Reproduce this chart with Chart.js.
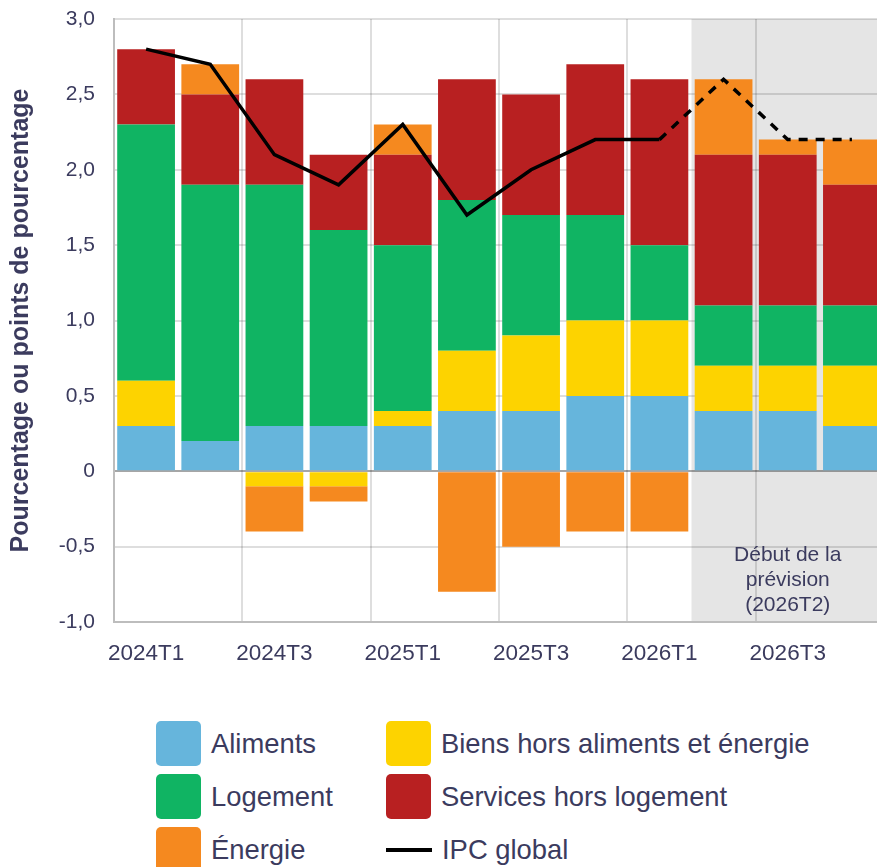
<!DOCTYPE html>
<html>
<head>
<meta charset="utf-8">
<script src="https://cdn.jsdelivr.net/npm/chart.js@4"></script>
<style>
body { margin:0; width:877px; height:867px; overflow:hidden; background:#fff; font-family:"Liberation Sans", Arial, sans-serif; }
#wrap { position:absolute; left:0; top:0; width:884px; height:680px; }
.item { position:absolute; display:flex; align-items:center; height:45px; font-size:27.4px; color:#3b3b5e; white-space:nowrap; }
.sw { width:45px; height:45px; border-radius:5px; margin-right:10px; }
.ln { width:46px; height:4px; background:#000; margin-right:10px; }
</style>
</head>
<body>
<div id="wrap"><canvas id="myChart" width="884" height="680"></canvas></div>
<div id="legend"></div>
<script>
var labels = ["2024T1", "2024T2", "2024T3", "2024T4", "2025T1", "2025T2", "2025T3", "2025T4", "2026T1", "2026T2", "2026T3", "2026T4"];
var aliments = [0.3, 0.2, 0.3, 0.3, 0.3, 0.4, 0.4, 0.5, 0.5, 0.4, 0.4, 0.3];
var biens = [0.3, 0, -0.1, -0.1, 0.1, 0.4, 0.5, 0.5, 0.5, 0.3, 0.3, 0.4];
var logement = [1.7, 1.7, 1.6, 1.3, 1.1, 1.0, 0.8, 0.7, 0.5, 0.4, 0.4, 0.4];
var services = [0.5, 0.6, 0.7, 0.5, 0.6, 0.8, 0.8, 1.0, 1.1, 1.0, 1.0, 0.8];
var energie = [0, 0.2, -0.3, -0.1, 0.2, -0.8, -0.5, -0.4, -0.4, 0.5, 0.1, 0.3];
var ipc = [2.8, 2.7, 2.1, 1.9, 2.3, 1.7, 2.0, 2.2, 2.2, 2.6, 2.2, 2.2];
var yTicks = [-1, -0.5, 0, 0.5, 1, 1.5, 2, 2.5, 3];
var forecastStart = 9;
var forecastText = ["Début de la", "prévision", "(2026T2)"];

var navy = "#3b3b5e";
var font = "'Liberation Sans', Arial, sans-serif";

// same order as the legend rows: Aliments, Biens / Logement, Services / Energie, IPC
var series = [
    { label: "Aliments", data: aliments, color: "#66b5dc" },
    { label: "Biens hors aliments et énergie", data: biens, color: "#fdd300" },
    { label: "Logement", data: logement, color: "#10b463" },
    { label: "Services hors logement", data: services, color: "#b82021" },
    { label: "Énergie", data: energie, color: "#f5891f" }
];

var forecastPlugin = {
    id: "forecast",
    beforeDraw: function (chart) {
        var x = chart.scales.x, a = chart.chartArea, c = chart.ctx;
        var half = (x.getPixelForValue(1) - x.getPixelForValue(0)) / 2;
        var x0 = x.getPixelForValue(forecastStart) - half;
        c.save();
        c.fillStyle = "#e5e5e5";
        c.fillRect(x0, a.top, a.right - x0, a.bottom - a.top);
        c.restore();
    },
    afterDraw: function (chart) {
        var x = chart.scales.x, y = chart.scales.y, c = chart.ctx;
        var cx = x.getPixelForValue(forecastStart + 1);
        var y0 = y.getPixelForValue(-0.5);
        c.save();
        c.fillStyle = navy;
        c.font = "21px " + font;
        c.textAlign = "center";
        c.textBaseline = "middle";
        for (var i = 0; i < forecastText.length; i++) {
            c.fillText(forecastText[i], cx, y0 + 9 + i * 25);
        }
        c.restore();
    }
};

function renderChart() {
    var datasets = series.map(function (s) {
        return {
            type: "bar",
            label: s.label,
            data: s.data,
            backgroundColor: s.color,
            stack: "parts",
            categoryPercentage: 1,
            barPercentage: 0.9
        };
    });
    datasets.push({
        type: "line",
        label: "IPC global",
        data: ipc,
        stack: "ipc",
        order: -1,
        borderColor: "#000",
        borderWidth: 3.5,
        pointRadius: 0,
        tension: 0,
        segment: {
            borderDash: function (ctx) { return ctx.p0DataIndex >= forecastStart - 1 ? [9, 8] : undefined; }
        }
    });

    var ctx = document.getElementById("myChart").getContext("2d");
    new Chart(ctx, {
        data: { labels: labels, datasets: datasets },
        plugins: [forecastPlugin],
        options: {
            responsive: false,
            animation: false,
            layout: { padding: { top: 19, left: 0, right: 0, bottom: 0 } },
            plugins: { legend: { display: false }, tooltip: { enabled: false } },
            scales: {
                x: {
                    stacked: true,
                    afterFit: function (s) { s.height = 58; s.paddingLeft = 0; s.paddingRight = 0; },
                    grid: {
                        offset: true,
                        drawTicks: false,
                        lineWidth: 2,
                        color: function (c) { return c.index % 2 === 0 ? "rgba(0,0,0,0.13)" : "rgba(0,0,0,0)"; }
                    },
                    border: { color: "#bdbdbd", width: 2 },
                    ticks: {
                        autoSkip: false,
                        maxRotation: 0,
                        padding: 18,
                        color: navy,
                        font: { family: font, size: 22.5 },
                        callback: function (v, i) { return i % 2 === 0 ? labels[i] : ""; }
                    }
                },
                y: {
                    stacked: true,
                    min: -1,
                    max: 3,
                    afterFit: function (s) { s.width = 114; s.paddingTop = 0; s.paddingBottom = 0; },
                    afterBuildTicks: function (s) { s.ticks = yTicks.map(function (v) { return { value: v }; }); },
                    grid: {
                        drawTicks: false,
                        lineWidth: 2,
                        color: function (c) { return c.tick && c.tick.value === 0 ? "rgba(0,0,0,0.35)" : "rgba(0,0,0,0.13)"; }
                    },
                    border: { color: "#bdbdbd", width: 2 },
                    title: {
                        display: true,
                        text: "Pourcentage ou points de pourcentage",
                        color: navy,
                        padding: { top: 6, bottom: 0 },
                        font: { family: font, size: 25, weight: "bold" }
                    },
                    ticks: {
                        padding: 19,
                        color: navy,
                        font: { family: font, size: 21 },
                        callback: function (v) { return v === 0 ? "0" : v.toFixed(1).replace(".", ","); }
                    }
                }
            }
        }
    });
}

function renderLegend() {
    var items = series.slice();
    items.push({ label: "IPC global", line: true });
    var html = "";
    for (var i = 0; i < items.length; i++) {
        var col = i % 2, row = Math.floor(i / 2);
        var left = col === 0 ? 156 : 386;
        var top = 721 + row * 53;
        var mark = items[i].line ? '<div class="ln"></div>' : '<div class="sw" style="background:' + items[i].color + '"></div>';
        html += '<div class="item" style="left:' + left + 'px;top:' + top + 'px">' + mark + '<span>' + items[i].label + '</span></div>';
    }
    document.getElementById("legend").innerHTML = html;
}

renderLegend();
renderChart();
</script>
</body>
</html>
